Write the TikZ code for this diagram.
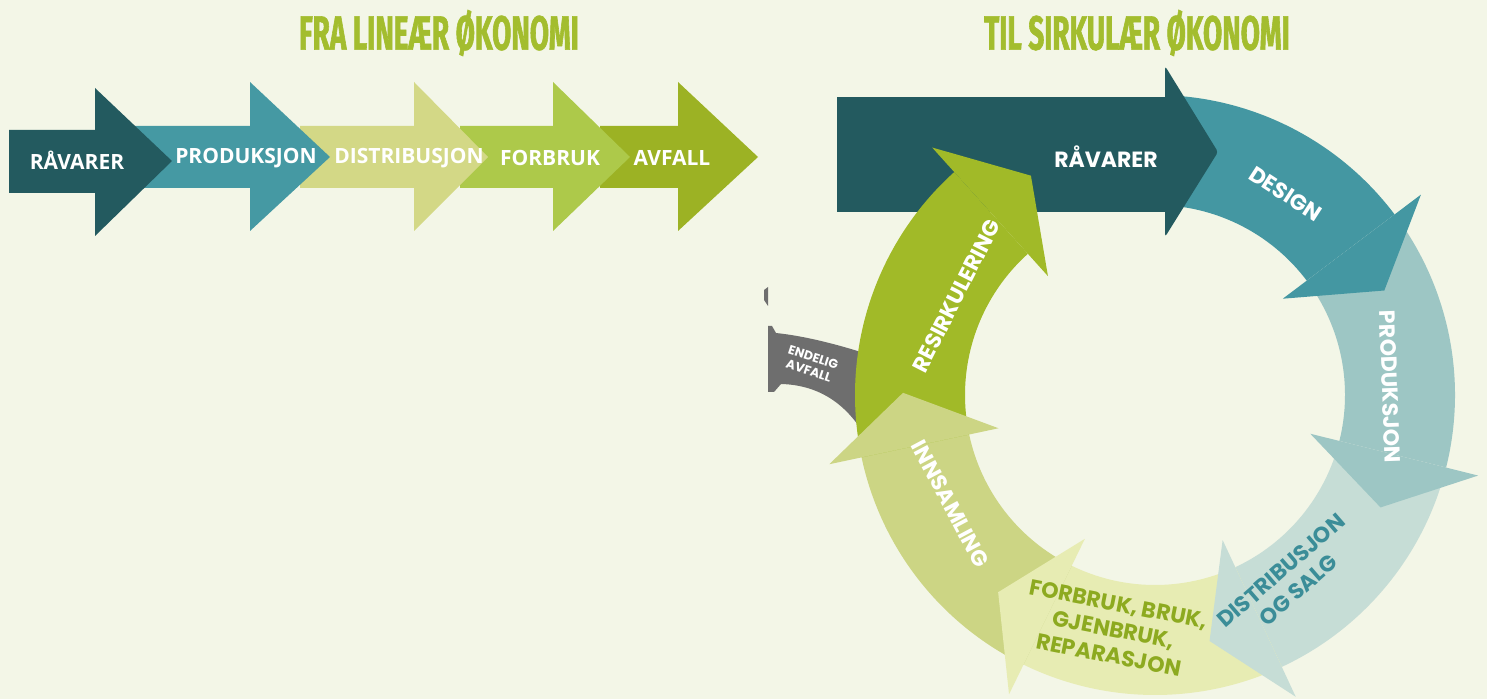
\documentclass[tikz,border=0pt]{standalone}
\usepackage{fontspec}
\usepackage{tikz}
\newfontfamily\linfont{Open Sans}
\newfontfamily\ringfont{Poppins}
\newfontfamily\titlefont[FakeStretch=0.58,FakeBold=1.2]{Fira Sans}
\definecolor{bg}{HTML}{F3F6E7}
\definecolor{titlegreen}{HTML}{A3BD2E}
\definecolor{ravarer}{HTML}{235A5F}
\definecolor{produksjon}{HTML}{4599A3}
\definecolor{distribusjon}{HTML}{D3D886}
\definecolor{forbruk}{HTML}{ADC94A}
\definecolor{avfall}{HTML}{9CB224}
\definecolor{design}{HTML}{4497A2}
\definecolor{prodring}{HTML}{9DC6C4}
\definecolor{distring}{HTML}{C6DDD6}
\definecolor{forbring}{HTML}{E7ECB3}
\definecolor{innsamling}{HTML}{CCD584}
\definecolor{resirk}{HTML}{A1BA28}
\definecolor{endelig}{HTML}{6E6E6E}
\definecolor{disttext}{HTML}{3B8D98}
\definecolor{forbtext}{HTML}{8DAA20}
\tikzstyle{heading}=[text=titlegreen, font=\titlefont\bfseries\fontsize{24}{24}\selectfont]
\tikzstyle{linlabel}=[text=white, font=\linfont\bfseries\fontsize{10.5}{12}\selectfont]
\tikzstyle{ringlabel}=[text=white, align=center, font=\ringfont\bfseries\fontsize{11}{13}\selectfont]
\tikzstyle{smalllabel}=[text=white, align=center, font=\ringfont\bfseries\fontsize{6.3}{7.2}\selectfont]

\begin{document}
\begin{tikzpicture}[x=0.5pt, y=0.5pt]
      \fill[bg] (0,0) rectangle (1487,-699);
      \useasboundingbox (0,0) rectangle (1487,-699);

      \node[heading] (lintitle) at (439,-33) {FRA LINEÆR ØKONOMI};
      \node[heading] (sirktitle) at (1137,-33) {TIL SIRKULÆR ØKONOMI};

      \begin{scope}
        \fill[avfall] (600,-126) -- (678,-126) -- (678,-82) -- (758,-157) -- (678,-231) -- (678,-188) -- (600,-188) -- cycle;
        \fill[forbruk] (460,-126) -- (553,-126) -- (553,-82) -- (630,-157) -- (553,-231) -- (553,-188) -- (460,-188) -- cycle;
        \fill[distribusjon] (300,-126) -- (414,-126) -- (414,-82) -- (488,-157) -- (414,-231) -- (414,-188) -- (300,-188) -- cycle;
        \fill[produksjon] (135,-126) -- (250,-126) -- (250,-82) -- (330,-157) -- (250,-231) -- (250,-188) -- (135,-188) -- cycle;
        \fill[ravarer] (9,-130) -- (95,-130) -- (95,-88) -- (172,-161) -- (95,-236) -- (95,-193) -- (9,-193) -- cycle;
        \node[linlabel] (l1) at (77,-160) {RÅVARER};
        \node[linlabel] (l2) at (246,-158) {PRODUKSJON};
        \node[linlabel] (l3) at (409,-158) {DISTRIBUSJON};
        \node[linlabel] (l4) at (550,-158) {FORBRUK};
        \node[linlabel] (l5) at (672,-158) {AVFALL};
      \end{scope}

      \fill[ravarer] (837,-97) rectangle (1165,-212);
      \fill[endelig] (764,-290) -- (768,-287) -- (768,-306) -- (764,-300) -- cycle;
      \fill[endelig] (768,-326) -- (772,-326) -- (776,-333) .. controls (805,-336) and (840,-345) .. (870,-355)
        -- (870,-445) .. controls (850,-405) and (820,-385) .. (781,-384) -- (774,-392) -- (768,-392) -- cycle;

      \coordinate (c) at (1155,-395);
      \begin{scope}[shift={(c)}]
        \fill[design] (86:300) arc[start angle=86, end angle=37, radius=300] -- (37:190) arc[start angle=37, end angle=86, radius=190] -- cycle;
        \fill[prodring] (37:300) arc[start angle=37, end angle=-14, radius=300] -- (-14:190) arc[start angle=-14, end angle=37, radius=190] -- cycle;
        \fill[distring] (-14:300) arc[start angle=-14, end angle=-65, radius=300] -- (-65:190) arc[start angle=-65, end angle=-14, radius=190] -- cycle;
        \fill[forbring] (-65:300) arc[start angle=-65, end angle=-116, radius=300] -- (-116:190) arc[start angle=-116, end angle=-65, radius=190] -- cycle;
        \fill[innsamling] (-116:300) arc[start angle=-116, end angle=-168, radius=300] -- (-168:190) arc[start angle=-168, end angle=-116, radius=190] -- cycle;
        \fill[resirk] (192:300) arc[start angle=192, end angle=132, radius=300] -- (132:190) arc[start angle=132, end angle=192, radius=190] -- cycle;

        \fill[design] (37:333) -- (24.5:252) -- (37:160) -- cycle;
        \fill[prodring] (-14:333) -- (-26.5:252) -- (-14:160) -- cycle;
        \fill[distring] (-65:333) -- (-77.5:252) -- (-65:160) -- cycle;
        \fill[forbring] (-116:333) -- (-128.5:252) -- (-116:160) -- cycle;
        \fill[innsamling] (-168:333) -- (-180.5:252) -- (-168:160) -- cycle;
        \fill[resirk] (132:333) -- (119.5:252) -- (132:160) -- cycle;

        \node[ringlabel, rotate=-33] (design) at (57:240) {DESIGN};
        \node[ringlabel, rotate=-88] (produksjon) at (2:235) {PRODUKSJON};
        \node[ringlabel, text=disttext, rotate=41] (distribusjon) at (-54:229) {DISTRIBUSJON\\OG SALG};
        \node[ringlabel, text=forbtext, rotate=-11] (forbruk) at (-100:238) {FORBRUK, BRUK,\\GJENBRUK,\\REPARASJON};
        \node[ringlabel, rotate=-62] (innsamling) at (-152:232) {INNSAMLING};
        \node[ringlabel, rotate=63] (resirkulering) at (153.5:222) {RESIRKULERING};
      \end{scope}
      \fill[ravarer, rounded corners=1.5] (1165,-66) -- (1218,-152) -- (1165,-237) -- cycle;

      \node[ringlabel] (ravarer) at (1106,-157) {RÅVARER};
      \node[smalllabel, rotate=-18] (endelig) at (811,-364) {ENDELIG\\AVFALL};
    \end{tikzpicture}
\end{document}
